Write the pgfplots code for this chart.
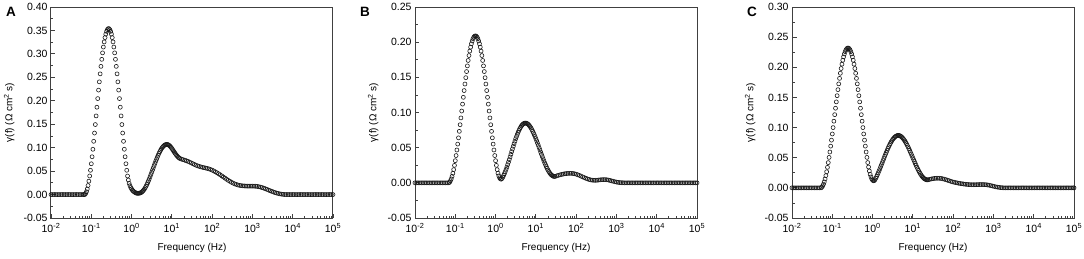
\documentclass[border=0pt]{standalone}
\usepackage{fontspec}
\setmainfont{Liberation Sans}
\usepackage{pgfplots}
\pgfplotsset{compat=1.18}
\pgfplotsset{
 drt/.style={
  scale only axis, width=282pt, height=211pt,
  xmin=1e-2, xmax=1e5,
  xtick={1e-2,1e-1,1,1e1,1e2,1e3,1e4,1e5},
  xticklabels={10\textsuperscript{-2},10\textsuperscript{-1},10\textsuperscript{0},10\textsuperscript{1},10\textsuperscript{2},10\textsuperscript{3},10\textsuperscript{4},10\textsuperscript{5}},
  minor xtick={2e-2,3e-2,4e-2,5e-2,6e-2,7e-2,8e-2,9e-2,0.2,0.3,0.4,0.5,0.6,0.7,0.8,0.9,2,3,4,5,6,7,8,9,20,30,40,50,60,70,80,90,200,300,400,500,600,700,800,900,2000,3000,4000,5000,6000,7000,8000,9000,2e4,3e4,4e4,5e4,6e4,7e4,8e4,9e4},
  minor y tick num=1,
  tick align=inside, tick pos=left,
  major tick length=4.5pt, minor tick length=2.5pt,
  tick style={black!75, line width=0.8pt},
  axis line style={black!75, line width=1pt},
  tick label style={font=\fontsize{10.5}{12}\selectfont},
  xticklabel style={yshift=-1.5pt},
  xlabel={Frequency (Hz)},
  ylabel={γ(f) (Ω cm\textsuperscript{2} s)},
  xlabel style={font=\fontsize{13}{15}\selectfont},
  ylabel style={font=\fontsize{14}{16}\selectfont},
  every axis x label/.style={at={(axis description cs:0.5,0)}, anchor=center, yshift=-30pt},
  every axis y label/.style={at={(axis description cs:0,0.5)}, rotate=90, anchor=south, yshift=33pt},
 },
 drtmarks/.style={only marks, mark=o, mark size=2pt, mark options={line width=0.6pt, draw=black!90}},
}
\begin{document}
\begin{tikzpicture}
\path[use as bounding box] (0,0) rectangle (1084pt,258pt);
% ---------------- A ----------------
\begin{axis}[xmode=log, drt, at={(51pt,40pt)}, anchor=south west,
  ymin=-0.05, ymax=0.40,
  ytick={-0.05,0,0.05,0.10,0.15,0.20,0.25,0.30,0.35,0.40},
  yticklabels={-0.05,0.00,0.05,0.10,0.15,0.20,0.25,0.30,0.35,0.40}]
\addplot[drtmarks] table[row sep=\\]{
x y\\
1.000e-2 0\\1.096e-2 0\\1.202e-2 0\\1.318e-2 0\\1.445e-2 0\\1.585e-2 0\\1.738e-2 0\\1.905e-2 0\\2.089e-2 0\\2.291e-2 0\\
2.512e-2 0\\2.754e-2 0\\3.020e-2 0\\3.311e-2 0\\3.631e-2 0\\3.981e-2 0\\4.365e-2 0\\4.786e-2 0\\5.248e-2 0\\5.754e-2 0\\6.310e-2 0\\
6.607e-2 0\\6.918e-2 0.0002\\7.244e-2 0.0022\\7.586e-2 0.0060\\7.943e-2 0.0118\\8.318e-2 0.0193\\8.710e-2 0.0286\\9.120e-2 0.0396\\9.550e-2 0.0518\\
1.000e-1 0.0657\\1.047e-1 0.0806\\1.096e-1 0.0966\\1.148e-1 0.1136\\1.202e-1 0.1312\\1.259e-1 0.1493\\1.318e-1 0.1677\\1.380e-1 0.1863\\1.445e-1 0.2047\\1.514e-1 0.2228\\
1.585e-1 0.2404\\1.660e-1 0.2574\\1.738e-1 0.2734\\1.820e-1 0.2884\\1.905e-1 0.3022\\1.995e-1 0.3146\\2.089e-1 0.3255\\2.188e-1 0.3347\\2.291e-1 0.3422\\2.399e-1 0.3480\\
2.512e-1 0.3518\\2.630e-1 0.3538\\2.754e-1 0.3538\\2.884e-1 0.3518\\3.020e-1 0.3480\\3.162e-1 0.3422\\3.311e-1 0.3347\\3.467e-1 0.3255\\3.631e-1 0.3146\\3.802e-1 0.3022\\
3.981e-1 0.2884\\4.169e-1 0.2734\\4.365e-1 0.2574\\4.571e-1 0.2404\\4.786e-1 0.2228\\5.012e-1 0.2047\\5.248e-1 0.1863\\5.495e-1 0.1677\\5.754e-1 0.1493\\6.026e-1 0.1312\\
6.310e-1 0.1136\\6.607e-1 0.0966\\6.918e-1 0.0806\\7.244e-1 0.0657\\7.586e-1 0.0518\\7.943e-1 0.0396\\8.318e-1 0.0310\\8.710e-1 0.0240\\9.120e-1 0.0190\\9.550e-1 0.0150\\
1.000e0 0.0120\\1.047e0 0.0095\\1.096e0 0.0075\\1.148e0 0.0060\\1.202e0 0.0048\\1.259e0 0.0038\\1.318e0 0.0031\\1.380e0 0.0027\\1.445e0 0.0026\\1.514e0 0.0029\\
1.585e0 0.0030\\1.660e0 0.0036\\1.738e0 0.0045\\1.820e0 0.0057\\1.905e0 0.0074\\1.995e0 0.0095\\2.089e0 0.0118\\2.188e0 0.0148\\2.291e0 0.0179\\2.399e0 0.0214\\
2.512e0 0.0251\\2.630e0 0.0292\\2.754e0 0.0336\\2.884e0 0.0381\\3.020e0 0.0428\\3.162e0 0.0475\\3.311e0 0.0523\\3.467e0 0.0571\\3.631e0 0.0619\\3.802e0 0.0666\\
3.981e0 0.0712\\4.169e0 0.0756\\4.365e0 0.0799\\4.571e0 0.0840\\4.786e0 0.0878\\5.012e0 0.0913\\5.248e0 0.0946\\5.495e0 0.0975\\5.754e0 0.1000\\6.026e0 0.1022\\
6.310e0 0.1040\\6.607e0 0.1054\\6.918e0 0.1063\\7.244e0 0.1069\\7.586e0 0.1070\\7.943e0 0.1066\\8.318e0 0.1057\\8.710e0 0.1044\\9.120e0 0.1027\\9.550e0 0.1006\\
1.000e1 0.0983\\1.047e1 0.0958\\1.096e1 0.0932\\1.148e1 0.0906\\1.202e1 0.0880\\1.259e1 0.0856\\1.318e1 0.0834\\1.380e1 0.0814\\1.445e1 0.0796\\1.514e1 0.0781\\
1.585e1 0.0769\\1.738e1 0.0755\\1.905e1 0.0744\\2.089e1 0.0733\\2.291e1 0.0721\\
2.512e1 0.0708\\2.754e1 0.0692\\3.020e1 0.0676\\3.311e1 0.0659\\3.631e1 0.0642\\3.981e1 0.0626\\4.365e1 0.0612\\4.786e1 0.0600\\5.248e1 0.0590\\5.754e1 0.0581\\
6.310e1 0.0573\\6.918e1 0.0565\\7.586e1 0.0557\\8.318e1 0.0547\\9.120e1 0.0535\\
1.000e2 0.0521\\1.096e2 0.0504\\1.202e2 0.0485\\1.318e2 0.0465\\1.445e2 0.0444\\1.585e2 0.0422\\1.738e2 0.0398\\1.905e2 0.0374\\2.089e2 0.0350\\2.291e2 0.0326\\
2.512e2 0.0303\\2.754e2 0.0282\\3.020e2 0.0262\\3.311e2 0.0244\\3.631e2 0.0228\\3.981e2 0.0215\\4.365e2 0.0204\\4.786e2 0.0196\\5.248e2 0.0190\\5.754e2 0.0186\\
6.310e2 0.0183\\6.918e2 0.0181\\7.586e2 0.0180\\8.318e2 0.0180\\9.120e2 0.0180\\
1.000e3 0.0180\\1.096e3 0.0179\\1.202e3 0.0177\\1.318e3 0.0173\\1.445e3 0.0167\\1.585e3 0.0159\\1.738e3 0.0149\\1.905e3 0.0137\\2.089e3 0.0124\\2.291e3 0.0110\\
2.512e3 0.0096\\2.754e3 0.0082\\3.020e3 0.0068\\3.311e3 0.0055\\3.631e3 0.0043\\3.981e3 0.0032\\4.365e3 0.0023\\4.786e3 0.0015\\5.248e3 0.0009\\5.754e3 0.0004\\
6.310e3 0.0001\\6.918e3 0\\7.586e3 0\\8.318e3 0\\9.120e3 0\\
1.000e4 0\\1.096e4 0\\1.202e4 0\\1.318e4 0\\1.445e4 0\\1.585e4 0\\1.738e4 0\\1.905e4 0\\2.089e4 0\\2.291e4 0\\
2.512e4 0\\2.754e4 0\\3.020e4 0\\3.311e4 0\\3.631e4 0\\3.981e4 0\\4.365e4 0\\4.786e4 0\\5.248e4 0\\5.754e4 0\\
6.310e4 0\\6.918e4 0\\7.586e4 0\\8.318e4 0\\9.120e4 0\\1.000e5 0\\
};
\end{axis}
% ---------------- B ----------------
\begin{axis}[xmode=log, drt, at={(415pt,40pt)}, anchor=south west,
  ymin=-0.05, ymax=0.25,
  ytick={-0.05,0,0.05,0.10,0.15,0.20,0.25},
  yticklabels={-0.05,0.00,0.05,0.10,0.15,0.20,0.25}]
\addplot[drtmarks] table[row sep=\\]{
x y\\
1.000e-2 0\\1.096e-2 0\\1.202e-2 0\\1.318e-2 0\\1.445e-2 0\\1.585e-2 0\\1.738e-2 0\\1.905e-2 0\\2.089e-2 0\\2.291e-2 0\\
2.512e-2 0\\2.754e-2 0\\3.020e-2 0\\3.311e-2 0\\3.631e-2 0\\3.981e-2 0\\4.365e-2 0\\4.786e-2 0\\5.248e-2 0\\5.754e-2 0\\6.310e-2 0\\6.918e-2 0\\
7.244e-2 0.0010\\7.586e-2 0.0029\\7.943e-2 0.0056\\8.318e-2 0.0092\\8.710e-2 0.0136\\9.120e-2 0.0188\\9.550e-2 0.0248\\
1.000e-1 0.0315\\1.047e-1 0.0388\\1.096e-1 0.0467\\1.148e-1 0.0551\\1.202e-1 0.0640\\1.259e-1 0.0732\\1.318e-1 0.0826\\1.380e-1 0.0923\\1.445e-1 0.1021\\1.514e-1 0.1119\\
1.585e-1 0.1216\\1.660e-1 0.1312\\1.738e-1 0.1405\\1.820e-1 0.1495\\1.905e-1 0.1582\\1.995e-1 0.1663\\2.089e-1 0.1740\\2.188e-1 0.1810\\2.291e-1 0.1873\\2.399e-1 0.1929\\
2.512e-1 0.1977\\2.630e-1 0.2017\\2.754e-1 0.2049\\2.884e-1 0.2072\\3.020e-1 0.2085\\3.162e-1 0.2090\\3.311e-1 0.2085\\3.467e-1 0.2072\\3.631e-1 0.2049\\3.802e-1 0.2017\\
3.981e-1 0.1977\\4.169e-1 0.1929\\4.365e-1 0.1873\\4.571e-1 0.1810\\4.786e-1 0.1740\\5.012e-1 0.1663\\5.248e-1 0.1582\\5.495e-1 0.1495\\5.754e-1 0.1405\\6.026e-1 0.1312\\
6.310e-1 0.1216\\6.607e-1 0.1119\\6.918e-1 0.1021\\7.244e-1 0.0923\\7.586e-1 0.0826\\7.943e-1 0.0732\\8.318e-1 0.0640\\8.710e-1 0.0551\\9.120e-1 0.0467\\9.550e-1 0.0388\\
1.000e0 0.0315\\1.047e0 0.0248\\1.096e0 0.0188\\1.148e0 0.0138\\1.202e0 0.0099\\1.259e0 0.0071\\1.318e0 0.0056\\1.380e0 0.0052\\1.445e0 0.0061\\1.514e0 0.0081\\
1.585e0 0.0105\\1.660e0 0.0131\\1.738e0 0.0160\\1.820e0 0.0191\\1.905e0 0.0223\\1.995e0 0.0258\\2.089e0 0.0294\\2.188e0 0.0330\\2.291e0 0.0368\\2.399e0 0.0406\\
2.512e0 0.0444\\2.630e0 0.0482\\2.754e0 0.0520\\2.884e0 0.0556\\3.020e0 0.0592\\3.162e0 0.0627\\3.311e0 0.0659\\3.467e0 0.0690\\3.631e0 0.0719\\3.802e0 0.0745\\
3.981e0 0.0769\\4.169e0 0.0790\\4.365e0 0.0808\\4.571e0 0.0823\\4.786e0 0.0835\\5.012e0 0.0843\\5.248e0 0.0848\\5.495e0 0.0850\\5.754e0 0.0848\\6.026e0 0.0844\\
6.310e0 0.0837\\6.607e0 0.0826\\6.918e0 0.0813\\7.244e0 0.0797\\7.586e0 0.0779\\7.943e0 0.0758\\8.318e0 0.0735\\8.710e0 0.0710\\9.120e0 0.0684\\9.550e0 0.0657\\
1.000e1 0.0628\\1.047e1 0.0598\\1.096e1 0.0566\\1.148e1 0.0535\\1.202e1 0.0502\\1.259e1 0.0470\\1.318e1 0.0437\\1.380e1 0.0405\\1.445e1 0.0373\\1.514e1 0.0342\\
1.585e1 0.0312\\1.660e1 0.0283\\1.738e1 0.0256\\1.820e1 0.0229\\1.905e1 0.0205\\1.995e1 0.0183\\2.089e1 0.0162\\2.188e1 0.0144\\2.291e1 0.0128\\2.399e1 0.0116\\
2.512e1 0.0106\\2.630e1 0.0098\\2.754e1 0.0093\\2.884e1 0.0091\\3.020e1 0.0092\\3.311e1 0.0100\\3.631e1 0.0107\\3.981e1 0.0114\\4.365e1 0.0119\\4.786e1 0.0125\\
5.248e1 0.0129\\5.754e1 0.0132\\6.310e1 0.0134\\6.918e1 0.0135\\7.586e1 0.0135\\8.318e1 0.0133\\9.120e1 0.0129\\
1.000e2 0.0123\\1.096e2 0.0115\\1.202e2 0.0106\\1.318e2 0.0096\\1.445e2 0.0085\\1.585e2 0.0075\\1.738e2 0.0065\\1.905e2 0.0056\\2.089e2 0.0048\\2.291e2 0.0042\\
2.512e2 0.0038\\2.754e2 0.0036\\3.020e2 0.0036\\3.311e2 0.0037\\3.631e2 0.0040\\3.981e2 0.0043\\4.365e2 0.0045\\4.786e2 0.0046\\5.248e2 0.0046\\5.754e2 0.0044\\
6.310e2 0.0040\\6.918e2 0.0034\\7.586e2 0.0028\\8.318e2 0.0022\\9.120e2 0.0016\\
1.000e3 0.0011\\1.096e3 0.0007\\1.202e3 0.0004\\1.318e3 0.0002\\1.445e3 0.0001\\1.585e3 0\\1.738e3 0\\1.905e3 0\\2.089e3 0\\2.291e3 0\\
2.512e3 0\\2.754e3 0\\3.020e3 0\\3.311e3 0\\3.631e3 0\\3.981e3 0\\4.365e3 0\\4.786e3 0\\5.248e3 0\\5.754e3 0\\
6.310e3 0\\6.918e3 0\\7.586e3 0\\8.318e3 0\\9.120e3 0\\
1.000e4 0\\1.096e4 0\\1.202e4 0\\1.318e4 0\\1.445e4 0\\1.585e4 0\\1.738e4 0\\1.905e4 0\\2.089e4 0\\2.291e4 0\\
2.512e4 0\\2.754e4 0\\3.020e4 0\\3.311e4 0\\3.631e4 0\\3.981e4 0\\4.365e4 0\\4.786e4 0\\5.248e4 0\\5.754e4 0\\
6.310e4 0\\6.918e4 0\\7.586e4 0\\8.318e4 0\\9.120e4 0\\1.000e5 0\\
};
\end{axis}
% ---------------- C ----------------
\begin{axis}[xmode=log, drt, at={(792pt,40pt)}, anchor=south west,
  ymin=-0.05, ymax=0.30,
  ytick={-0.05,0,0.05,0.10,0.15,0.20,0.25,0.30},
  yticklabels={-0.05,0.00,0.05,0.10,0.15,0.20,0.25,0.30}]
\addplot[drtmarks] table[row sep=\\]{
x y\\
1.000e-2 0\\1.096e-2 0\\1.202e-2 0\\1.318e-2 0\\1.445e-2 0\\1.585e-2 0\\1.738e-2 0\\1.905e-2 0\\2.089e-2 0\\2.291e-2 0\\
2.512e-2 0\\2.754e-2 0\\3.020e-2 0\\3.311e-2 0\\3.631e-2 0\\3.981e-2 0\\4.365e-2 0\\4.786e-2 0\\5.248e-2 0\\
5.495e-2 0.0011\\5.754e-2 0.0031\\6.026e-2 0.0060\\6.310e-2 0.0099\\6.607e-2 0.0147\\6.918e-2 0.0203\\7.244e-2 0.0267\\7.586e-2 0.0340\\7.943e-2 0.0419\\8.318e-2 0.0505\\
8.710e-2 0.0595\\9.120e-2 0.0692\\9.550e-2 0.0791\\
1.000e-1 0.0894\\1.047e-1 0.1000\\1.096e-1 0.1106\\1.148e-1 0.1214\\1.202e-1 0.1321\\1.259e-1 0.1426\\1.318e-1 0.1529\\1.380e-1 0.1629\\1.445e-1 0.1725\\1.514e-1 0.1816\\
1.585e-1 0.1901\\1.660e-1 0.1980\\1.738e-1 0.2052\\1.820e-1 0.2117\\1.905e-1 0.2173\\1.995e-1 0.2221\\2.089e-1 0.2260\\2.188e-1 0.2289\\2.291e-1 0.2309\\2.399e-1 0.2319\\
2.512e-1 0.2319\\2.630e-1 0.2309\\2.754e-1 0.2289\\2.884e-1 0.2260\\3.020e-1 0.2221\\3.162e-1 0.2173\\3.311e-1 0.2117\\3.467e-1 0.2052\\3.631e-1 0.1980\\3.802e-1 0.1901\\
3.981e-1 0.1816\\4.169e-1 0.1725\\4.365e-1 0.1629\\4.571e-1 0.1529\\4.786e-1 0.1426\\5.012e-1 0.1321\\5.248e-1 0.1214\\5.495e-1 0.1106\\5.754e-1 0.1000\\6.026e-1 0.0894\\
6.310e-1 0.0791\\6.607e-1 0.0692\\6.918e-1 0.0595\\7.244e-1 0.0505\\7.586e-1 0.0420\\7.943e-1 0.0346\\8.318e-1 0.0280\\8.710e-1 0.0225\\9.120e-1 0.0182\\9.550e-1 0.0149\\
1.000e0 0.0127\\1.047e0 0.0118\\1.096e0 0.0120\\1.148e0 0.0135\\1.202e0 0.0160\\1.259e0 0.0188\\1.318e0 0.0218\\1.380e0 0.0249\\1.445e0 0.0281\\1.514e0 0.0314\\
1.585e0 0.0348\\1.660e0 0.0383\\1.738e0 0.0417\\1.820e0 0.0453\\1.905e0 0.0487\\1.995e0 0.0522\\2.089e0 0.0556\\2.188e0 0.0589\\2.291e0 0.0621\\2.399e0 0.0653\\
2.512e0 0.0682\\2.630e0 0.0710\\2.754e0 0.0736\\2.884e0 0.0761\\3.020e0 0.0783\\3.162e0 0.0803\\3.311e0 0.0820\\3.467e0 0.0835\\3.631e0 0.0848\\3.802e0 0.0857\\
3.981e0 0.0864\\4.169e0 0.0869\\4.365e0 0.0870\\4.571e0 0.0868\\4.786e0 0.0864\\5.012e0 0.0856\\5.248e0 0.0846\\5.495e0 0.0832\\5.754e0 0.0817\\6.026e0 0.0799\\
6.310e0 0.0779\\6.607e0 0.0757\\6.918e0 0.0733\\7.244e0 0.0707\\7.586e0 0.0680\\7.943e0 0.0652\\8.318e0 0.0623\\8.710e0 0.0591\\9.120e0 0.0560\\9.550e0 0.0529\\
1.000e1 0.0497\\1.047e1 0.0466\\1.096e1 0.0435\\1.148e1 0.0403\\1.202e1 0.0373\\1.259e1 0.0343\\1.318e1 0.0316\\1.380e1 0.0289\\1.445e1 0.0264\\1.514e1 0.0240\\
1.585e1 0.0219\\1.660e1 0.0199\\1.738e1 0.0182\\1.820e1 0.0167\\1.905e1 0.0155\\1.995e1 0.0146\\2.089e1 0.0139\\2.188e1 0.0134\\2.291e1 0.0132\\2.399e1 0.0134\\
2.630e1 0.0141\\2.884e1 0.0148\\3.162e1 0.0153\\3.467e1 0.0157\\3.802e1 0.0159\\4.169e1 0.0160\\4.571e1 0.0159\\5.012e1 0.0156\\5.495e1 0.0151\\6.026e1 0.0144\\
6.607e1 0.0136\\7.244e1 0.0127\\7.943e1 0.0118\\8.710e1 0.0109\\9.550e1 0.0100\\
1.047e2 0.0094\\1.148e2 0.0088\\1.259e2 0.0082\\1.380e2 0.0077\\1.514e2 0.0072\\1.660e2 0.0068\\1.820e2 0.0064\\1.995e2 0.0060\\2.188e2 0.0057\\2.399e2 0.0055\\
2.630e2 0.0053\\2.884e2 0.0052\\3.162e2 0.0052\\3.467e2 0.0052\\3.802e2 0.0053\\4.169e2 0.0054\\4.571e2 0.0055\\5.012e2 0.0055\\5.495e2 0.0055\\6.026e2 0.0054\\
6.607e2 0.0052\\7.244e2 0.0048\\7.943e2 0.0043\\8.710e2 0.0037\\9.550e2 0.0030\\
1.047e3 0.0023\\1.148e3 0.0017\\1.259e3 0.0012\\1.380e3 0.0008\\1.514e3 0.0004\\1.660e3 0.0002\\1.820e3 0\\1.995e3 0\\2.188e3 0\\2.399e3 0\\
2.630e3 0\\2.884e3 0\\3.162e3 0\\3.467e3 0\\3.802e3 0\\4.169e3 0\\4.571e3 0\\5.012e3 0\\5.495e3 0\\6.026e3 0\\
6.607e3 0\\7.244e3 0\\7.943e3 0\\8.710e3 0\\9.550e3 0\\
1.047e4 0\\1.148e4 0\\1.259e4 0\\1.380e4 0\\1.514e4 0\\1.660e4 0\\1.820e4 0\\1.995e4 0\\2.188e4 0\\2.399e4 0\\
2.630e4 0\\2.884e4 0\\3.162e4 0\\3.467e4 0\\3.802e4 0\\4.169e4 0\\4.571e4 0\\5.012e4 0\\5.495e4 0\\6.026e4 0\\
6.607e4 0\\7.244e4 0\\7.943e4 0\\8.710e4 0\\9.550e4 0\\1.000e5 0\\
};
\end{axis}
% panel letters
\node[anchor=north west, inner sep=0pt, font=\bfseries\fontsize{13.5}{13.5}\selectfont] at (6pt,251pt) {A};
\node[anchor=north west, inner sep=0pt, font=\bfseries\fontsize{13.5}{13.5}\selectfont] at (360pt,251pt) {B};
\node[anchor=north west, inner sep=0pt, font=\bfseries\fontsize{13.5}{13.5}\selectfont] at (747pt,251pt) {C};
\end{tikzpicture}
\end{document}
